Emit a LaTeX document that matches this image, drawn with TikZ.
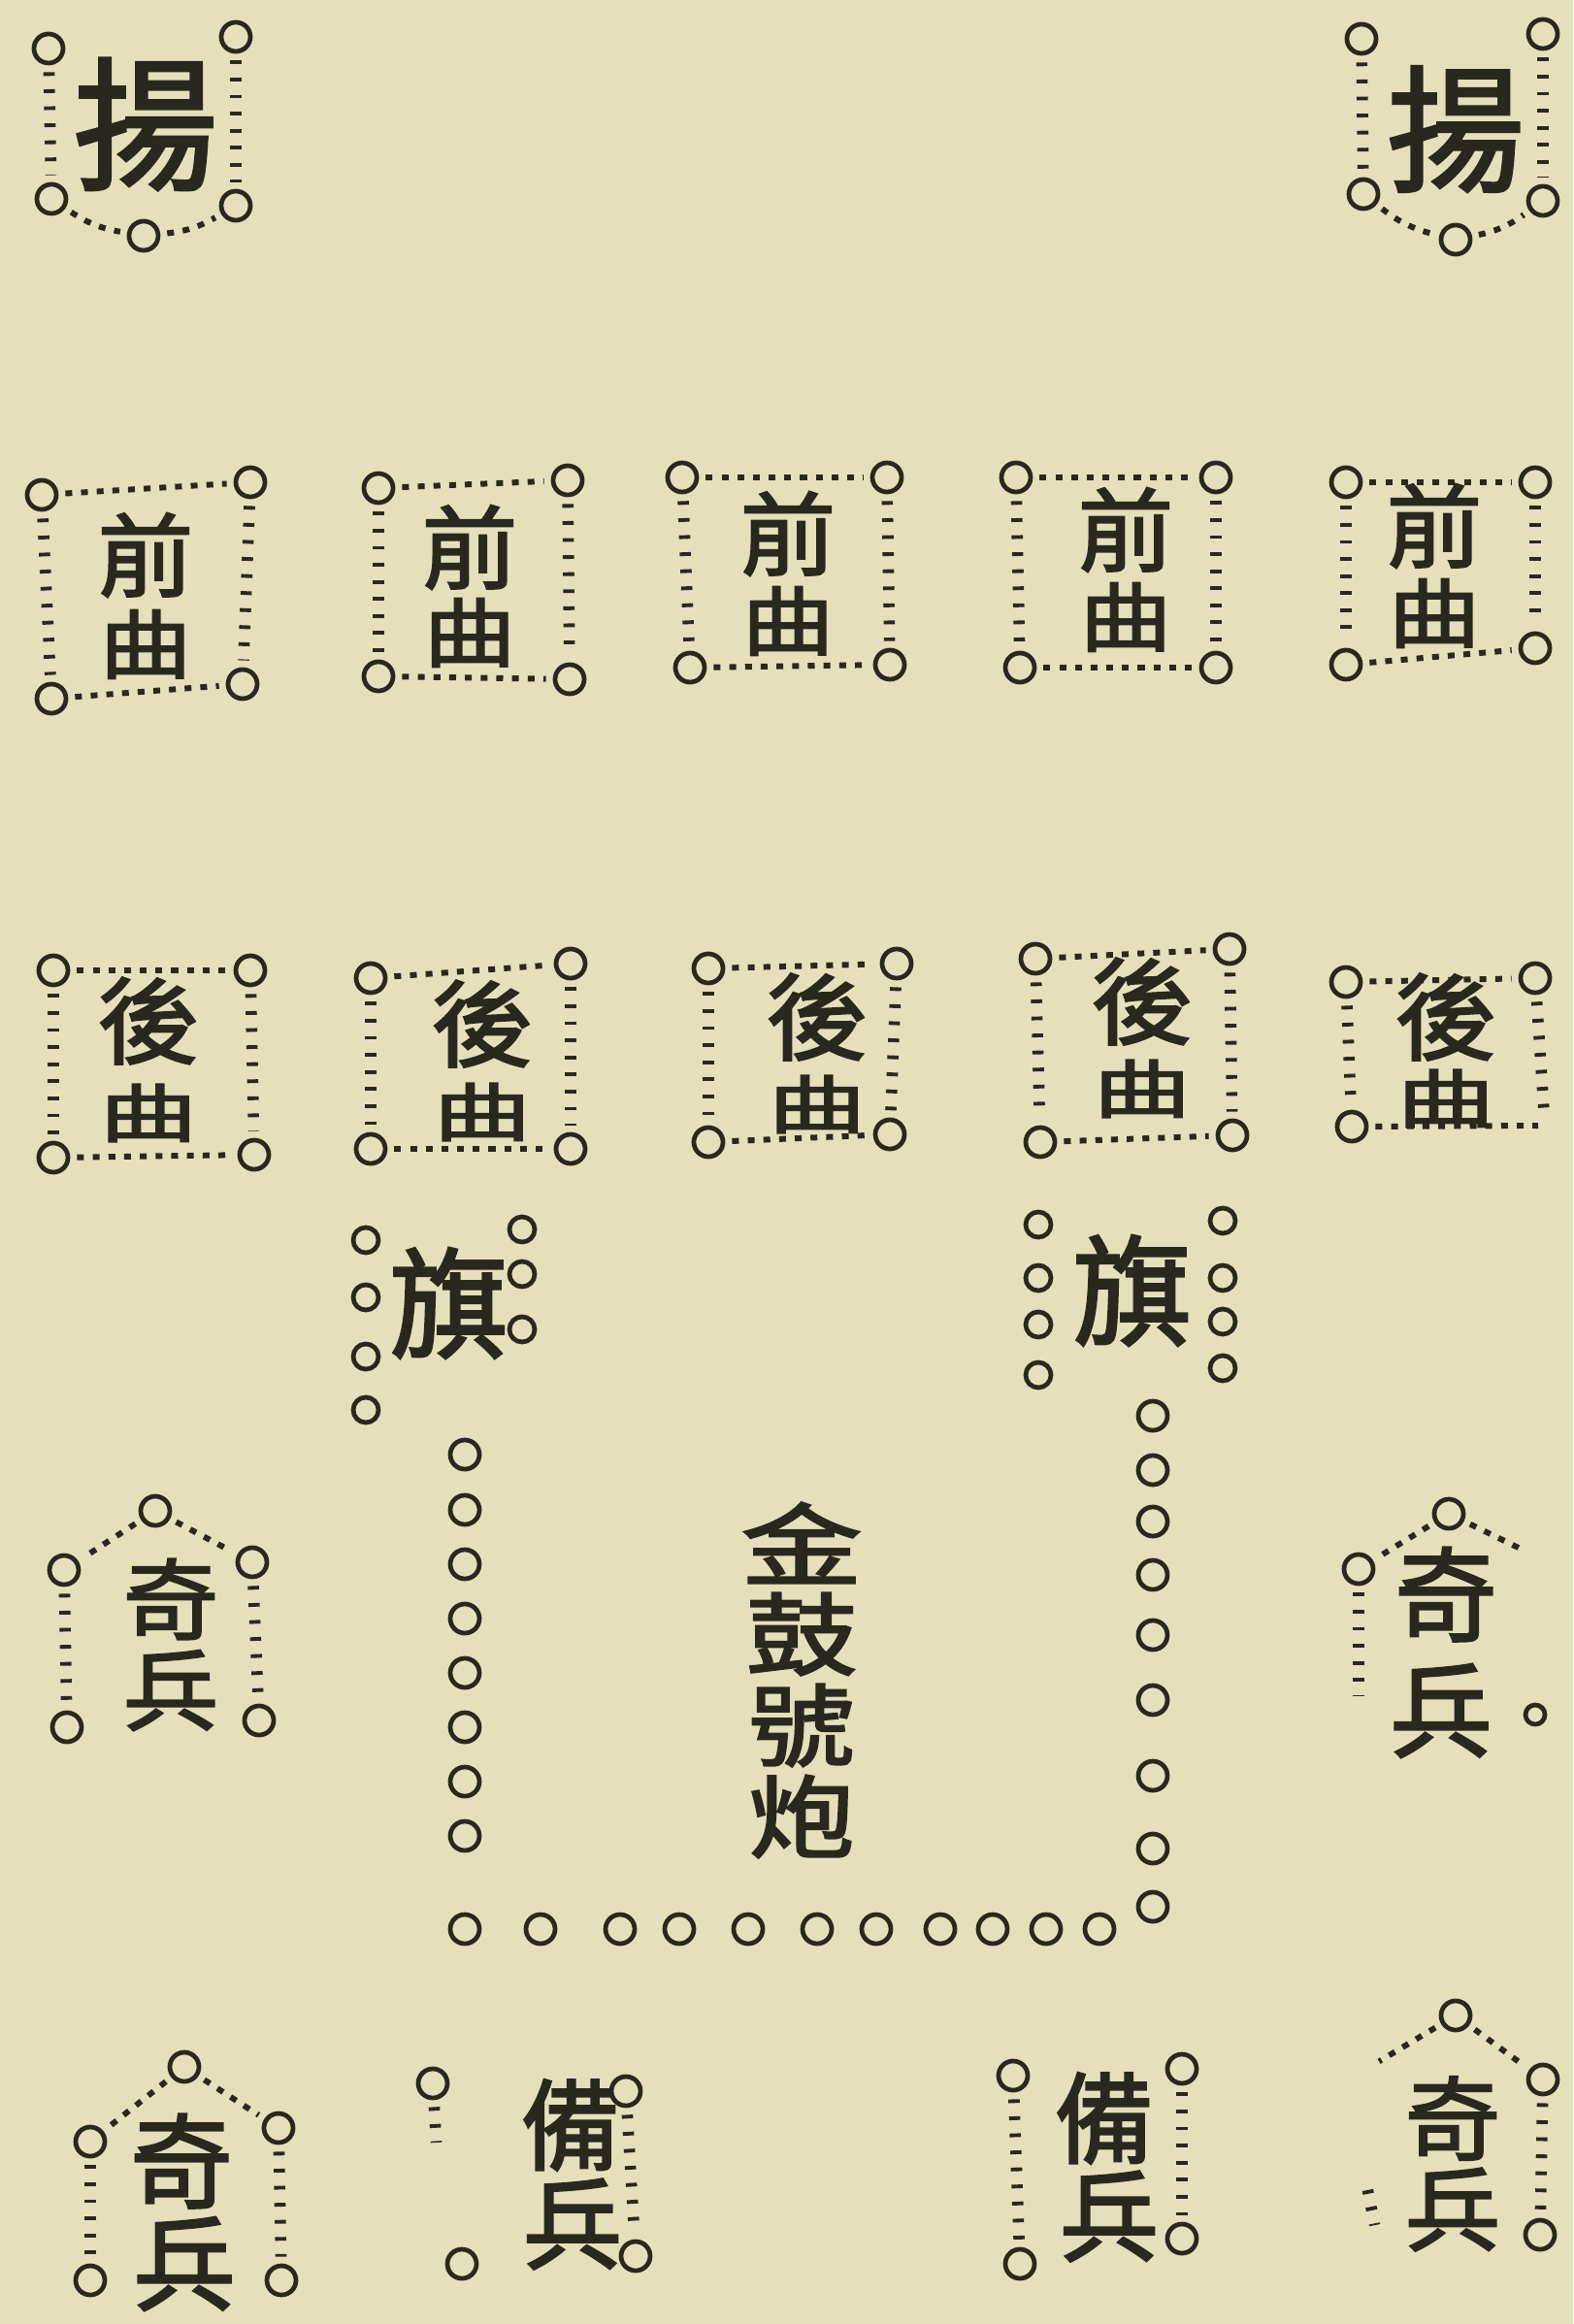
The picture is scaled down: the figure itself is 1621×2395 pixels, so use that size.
\documentclass[tikz,border=0pt]{standalone}
\usepackage{fontspec}
\usepackage{graphicx}
\newfontfamily\cjk[AutoFakeBold=2.2]{Noto Sans CJK TC}
\definecolor{paper}{RGB}{229,224,188}
\definecolor{ink}{RGB}{42,40,30}
\tikzset{
 ring/.style={circle,draw=ink,line width=1.35pt,minimum size=3mm,inner sep=0pt},
 sring/.style={ring,minimum size=2.6mm},
 vtick/.style={draw=ink,line width=3.3pt,dash pattern=on 1.1pt off 3.9pt,shorten <=2pt,shorten >=2pt},
 hdot/.style={draw=ink,line width=1.7pt,dash pattern=on 2pt off 2.6pt,shorten <=2pt,shorten >=2pt},
 ch/.style={text=ink,inner sep=0pt,font=\cjk\bfseries\fontsize{#1}{#1}\selectfont},
}
\newcommand\mkbox[5]{%
 \node[ring] (#1a) at (#2) {};
 \node[ring] (#1b) at (#3) {};
 \node[ring] (#1c) at (#4) {};
 \node[ring] (#1d) at (#5) {};
 \draw[hdot] (#1a) -- (#1b);
 \draw[vtick] (#1a) -- (#1c);
 \draw[vtick] (#1b) -- (#1d);
 \draw[hdot] (#1c) -- (#1d);
}
\newcommand\mkchars[4]{% name, x, y1, y2
 \node[ch=28pt] (#1s) at (#2,#3) {\scalebox{1}[0.95]{前}};
 \node[ch=27pt] (#1t) at (#2,#4) {\scalebox{1}[0.82]{曲}};
}
\newcommand\mkhou[4]{% name, x, y1, y2
 \node[ch=30pt] (#1s) at (#2,#3) {\scalebox{1}[0.92]{後}};
 \node[ch=26pt] (#1t) at (#2,#4) {\scalebox{1.1}[0.72]{曲}};
}
\begin{document}
\begin{tikzpicture}[x=0.01cm,y=-0.01cm]
\fill[paper] (0,0) rectangle (1621,2395);
\useasboundingbox (0,0) rectangle (1621,2395);

% ---- 揚 left
\node[ch=42pt] (y1t) at (150,128) {揚};
\node[ring] (y1a) at (50,50) {};
\node[ring] (y1b) at (243,38) {};
\node[ring] (y1c) at (53,205) {};
\node[ring] (y1d) at (148,243) {};
\node[ring] (y1e) at (243,212) {};
\draw[vtick] (y1a) -- (y1c);
\draw[vtick] (y1b) -- (y1e);
\draw[hdot] (y1c) to[bend right=12] (y1d);
\draw[hdot] (y1d) to[bend right=12] (y1e);

% ---- 揚 right
\node[ch=40pt] (y2t) at (1500,133) {揚};
\node[ring] (y2a) at (1403,40) {};
\node[ring] (y2b) at (1590,35) {};
\node[ring] (y2c) at (1405,200) {};
\node[ring] (y2d) at (1500,247) {};
\node[ring] (y2e) at (1590,207) {};
\draw[vtick] (y2a) -- (y2c);
\draw[vtick] (y2b) -- (y2e);
\draw[hdot] (y2c) to[bend right=12] (y2d);
\draw[hdot] (y2d) to[bend right=12] (y2e);

% ---- 前曲 row
\mkbox{q1}{43,510}{258,497}{53,720}{250,705}
\mkchars{q1}{150}{572}{664}
\mkbox{q2}{390,503}{585,495}{390,697}{587,700}
\mkchars{q2}{484}{564}{652}
\mkbox{q3}{703,492}{914,492}{711,688}{917,685}
\mkchars{q3}{812}{550}{640}
\mkbox{q4}{1047,492}{1253,492}{1051,688}{1253,688}
\mkchars{q4}{1160}{546}{636}
\mkbox{q5}{1387,497}{1582,497}{1387,685}{1582,668}
\mkchars{q5}{1478}{542}{632}

% ---- 後曲 row
\mkbox{h1}{55,1000}{258,1000}{55,1193}{262,1190}
\mkhou{h1}{153}{1052}{1147}
\mkbox{h2}{382,1008}{588,993}{382,1184}{588,1184}
\mkhou{h2}{497}{1055}{1146}
\mkbox{h3}{730,998}{924,993}{730,1177}{917,1169}
\mkhou{h3}{842}{1048}{1138}
\mkbox{h4}{1067,988}{1267,978}{1072,1177}{1270,1170}
\mkhou{h4}{1177}{1032}{1122}
\node[ring] (h5a) at (1387,1012) {};
\node[ring] (h5b) at (1582,1008) {};
\node[ring] (h5c) at (1393,1161) {};
\coordinate (h5d) at (1592,1160);
\draw[hdot] (h5a) -- (h5b);
\draw[vtick] (h5a) -- (h5c);
\draw[vtick] (h5b) -- (h5d);
\draw[hdot] (h5c) -- (h5d);
\mkhou{h5}{1490}{1048}{1132}

% ---- 旗 left
\node[ch=35pt] (f1t) at (463,1343) {旗};
\foreach \y [count=\i] in {1278,1337,1398,1453} \node[sring] (f1l\i) at (377,\y) {};
\foreach \y [count=\i] in {1267,1313,1370} \node[sring] (f1r\i) at (538,\y) {};
% ---- 旗 right
\node[ch=35pt] (f2t) at (1167,1330) {旗};
\foreach \y [count=\i] in {1262,1317,1365,1417} \node[sring] (f2l\i) at (1070,\y) {};
\foreach \y [count=\i] in {1258,1317,1362,1410} \node[sring] (f2r\i) at (1260,\y) {};

% ---- central square of rings
\foreach \y [count=\i] in {1499,1556,1612,1668,1724,1780,1836,1892} \node[ring] (cl\i) at (479,\y) {};
\foreach \x [count=\i] in {479,557,639,700,771,842,903,969,1023,1078,1133} \node[ring] (cb\i) at (\x,1988) {};
\foreach \y [count=\i] in {1459,1515,1568,1623,1685,1752,1830,1905,1965} \node[ring] (cr\i) at (1188,\y) {};
\node[ch=31pt] (m1) at (826,1590) {\scalebox{1.15}[0.85]{金}};
\node[ch=31pt] (m2) at (826,1684) {\scalebox{1.05}[0.85]{鼓}};
\node[ch=31pt] (m3) at (826,1778) {\scalebox{1}[0.85]{號}};
\node[ch=31pt] (m4) at (826,1872) {\scalebox{1}[0.85]{炮}};

% ---- 奇兵 left (row 5)
\node[ch=28pt] (k1s) at (176,1648) {\scalebox{1}[0.92]{奇}};
\node[ch=28pt] (k1t) at (176,1742) {\scalebox{1}[0.92]{兵}};
\node[ring] (k1a) at (160,1557) {};
\node[ring] (k1b) at (66,1618) {};
\node[ring] (k1c) at (260,1610) {};
\node[ring] (k1d) at (69,1780) {};
\node[ring] (k1e) at (267,1773) {};
\draw[hdot] (k1a) -- (k1b);
\draw[hdot] (k1a) -- (k1c);
\draw[vtick] (k1b) -- (k1d);
\draw[vtick] (k1c) -- (k1e);

% ---- 奇兵 right (row 5)
\node[ch=30pt] (k2s) at (1490,1643) {奇};
\node[ch=30pt] (k2t) at (1485,1763) {兵};
\node[ring] (k2a) at (1493,1560) {};
\node[ring] (k2b) at (1400,1617) {};
\coordinate (k2c) at (1400,1755);
\coordinate (k2d) at (1575,1600);
\node[ring,minimum size=2mm] (k2e) at (1582,1767) {};
\draw[hdot] (k2a) -- (k2b);
\draw[hdot] (k2a) -- (k2d);
\draw[vtick] (k2b) -- (k2c);

% ---- 奇兵 bottom left
\node[ch=30pt] (k3s) at (187,2227) {奇};
\node[ch=30pt] (k3t) at (190,2333) {兵};
\node[ring] (k3a) at (190,2130) {};
\node[ring] (k3b) at (93,2207) {};
\node[ring] (k3c) at (287,2193) {};
\node[ring] (k3d) at (93,2350) {};
\node[ring] (k3e) at (290,2350) {};
\draw[hdot] (k3a) -- (k3b);
\draw[hdot] (k3a) -- (k3c);
\draw[vtick] (k3b) -- (k3d);
\draw[vtick] (k3c) -- (k3e);

% ---- 奇兵 bottom right
\node[ch=28pt] (k4s) at (1497,2183) {\scalebox{1}[0.95]{奇}};
\node[ch=28pt] (k4t) at (1497,2277) {\scalebox{1}[0.95]{兵}};
\node[ring] (k4a) at (1500,2077) {};
\node[ring] (k4b) at (1590,2143) {};
\node[ring] (k4c) at (1587,2303) {};
\coordinate (k4d) at (1415,2128);
\coordinate (k4e) at (1408,2250);
\coordinate (k4f) at (1418,2300);
\draw[hdot] (k4a) -- (k4d);
\draw[hdot] (k4a) -- (k4b);
\draw[vtick] (k4b) -- (k4c);
\draw[vtick] (k4e) -- (k4f);

% ---- 備兵 left
\node[ch=29pt] (b1s) at (588,2190) {備};
\node[ch=29pt] (b1t) at (590,2292) {兵};
\node[ring] (b1a) at (446,2147) {};
\node[ring] (b1b) at (645,2155) {};
\node[ring] (b1c) at (476,2333) {};
\node[ring] (b1d) at (655,2325) {};
\coordinate (b1e) at (450,2215);
\draw[vtick] (b1a) -- (b1e);
\draw[vtick] (b1b) -- (b1d);

% ---- 備兵 right
\node[ch=29pt] (b2s) at (1138,2183) {備};
\node[ch=29pt] (b2t) at (1143,2284) {兵};
\node[ring] (b2a) at (1044,2139) {};
\node[ring] (b2b) at (1218,2132) {};
\node[ring] (b2c) at (1051,2333) {};
\node[ring] (b2d) at (1218,2307) {};
\draw[vtick] (b2a) -- (b2c);
\draw[vtick] (b2b) -- (b2d);
\end{tikzpicture}
\end{document}
